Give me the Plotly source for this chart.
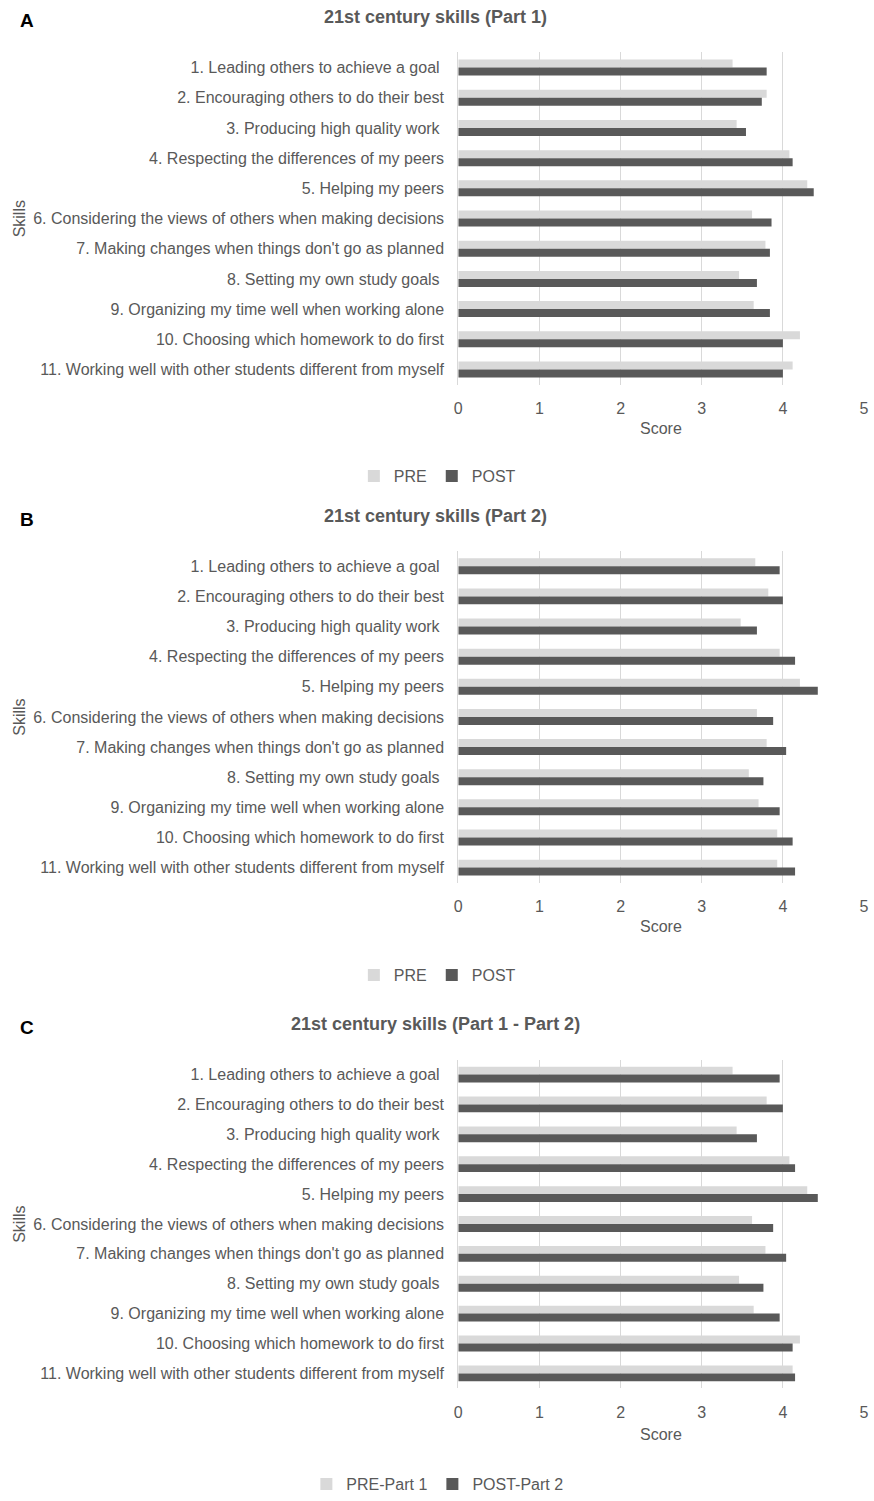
import plotly.graph_objects as go

skills = [
    "1. Leading others to achieve a goal\u00a0",
    "2. Encouraging others to do their best",
    "3. Producing high quality work\u00a0",
    "4. Respecting the differences of my peers",
    "5. Helping my peers",
    "6. Considering the views of others when making decisions",
    "7. Making changes when things don't go as planned",
    "8. Setting my own study goals\u00a0",
    "9. Organizing my time well when working alone",
    "10. Choosing which homework to do first",
    "11. Working well with other students different from myself",
]

part1_pre = [3.38, 3.80, 3.43, 4.08, 4.30, 3.62, 3.785, 3.46, 3.64, 4.21, 4.12]
part1_post = [3.80, 3.74, 3.545, 4.12, 4.38, 3.86, 3.84, 3.68, 3.84, 4.00, 4.00]
part2_pre = [3.66, 3.82, 3.48, 3.96, 4.21, 3.68, 3.80, 3.58, 3.70, 3.93, 3.93]
part2_post = [3.96, 4.00, 3.68, 4.15, 4.43, 3.88, 4.04, 3.76, 3.96, 4.12, 4.15]

titles = ["21st century skills (Part 1)", "21st century skills (Part 2)", "21st century skills (Part 1 - Part 2)"]
letters = ["A", "B", "C"]
legend_names = [("PRE", "POST"), ("PRE", "POST"), ("PRE-Part 1", "POST-Part 2")]
x_ticks = [0, 1, 2, 3, 4, 5]

PRE_COLOR = "#d9d9d9"
POST_COLOR = "#595959"
TEXT = "#595959"
FONT = "Liberation Sans, Arial, sans-serif"

W, H = 874, 1501
# pixel layout of each panel: (plot top, plot bottom, title y, score y, legend y)
panels = [
    (52.8, 386.9, 17.5, 431, 479),
    (554.5, 888.0, 519, 932.5, 981),
    (1066.0, 1396.7, 1030, 1443, 1493),
]
x_left, x_right = 459, 869

def py(p):
    return 1 - p / H

series = [(part1_pre, part1_post), (part2_pre, part2_post), (part1_pre, part2_post)]

fig = go.Figure()
annotations = []
for i, ((pre, post), (top, bot, ty, sy, ly)) in enumerate(zip(series, panels)):
    n = "" if i == 0 else str(i + 1)
    leg = "legend" + n
    fig.add_trace(go.Bar(y=skills, x=pre, orientation="h", name=legend_names[i][0],
                         marker=dict(color=PRE_COLOR, line=dict(width=0)),
                         xaxis="x" + n, yaxis="y" + n, legend=leg))
    fig.add_trace(go.Bar(y=skills, x=post, orientation="h", name=legend_names[i][1],
                         marker=dict(color=POST_COLOR, line=dict(width=0)),
                         xaxis="x" + n, yaxis="y" + n, legend=leg))
    fig.layout["xaxis" + n] = dict(
        domain=[x_left / W, x_right / W], range=[0, 5], tickvals=x_ticks,
        showgrid=True, gridcolor="#d9d9d9", gridwidth=1, zeroline=False, showline=False,
        ticks="outside", ticklen=9, tickcolor="rgba(0,0,0,0)",
        tickfont=dict(family=FONT, size=16, color=TEXT), anchor="y" + n, fixedrange=True,
    )
    fig.layout["yaxis" + n] = dict(
        domain=[py(bot), py(top)], autorange="reversed", type="category",
        showgrid=False, zeroline=False, showline=True, linecolor="#d9d9d9", linewidth=1,
        ticks="outside", ticklen=10, tickcolor="rgba(0,0,0,0)",
        tickfont=dict(family=FONT, size=16, color=TEXT), anchor="x" + n, fixedrange=True,
    )
    fig.layout[leg] = dict(
        orientation="h", x=0.501, xanchor="center", y=py(ly), yanchor="middle",
        font=dict(family=FONT, size=16, color=TEXT), bgcolor="rgba(0,0,0,0)",
        itemwidth=30, traceorder="normal",
    )
    annotations += [
        dict(text="<b>" + titles[i] + "</b>", x=436 / W, y=py(ty), xref="paper", yref="paper",
             showarrow=False, font=dict(family=FONT, size=18, color=TEXT), xanchor="center", yanchor="middle"),
        dict(text="<b>" + letters[i] + "</b>", x=14 / W, y=py(ty + 3.5), xref="paper", yref="paper",
             showarrow=False, font=dict(family=FONT, size=19, color="black"), xanchor="left", yanchor="middle"),
        dict(text="Score", x=(x_left + x_right) / 2 / W, y=py(sy), xref="paper", yref="paper",
             showarrow=False, font=dict(family=FONT, size=16, color=TEXT), xanchor="center", yanchor="middle"),
        dict(text="Skills", x=16 / W, y=py((top + bot) / 2), xref="paper", yref="paper", textangle=-90,
             showarrow=False, font=dict(family=FONT, size=16, color=TEXT), xanchor="center", yanchor="middle"),
    ]

fig.update_layout(
    width=W, height=H, barmode="group", bargap=0.47, bargroupgap=0,
    margin=dict(l=0, r=0, t=0, b=0), plot_bgcolor="white", paper_bgcolor="white",
    annotations=annotations, font=dict(family=FONT, color=TEXT),
)

fig.write_html(
    "out.html",
    config={"displayModeBar": False},
    post_script="document.body.style.margin='0';document.body.style.overflow='hidden';",
)
